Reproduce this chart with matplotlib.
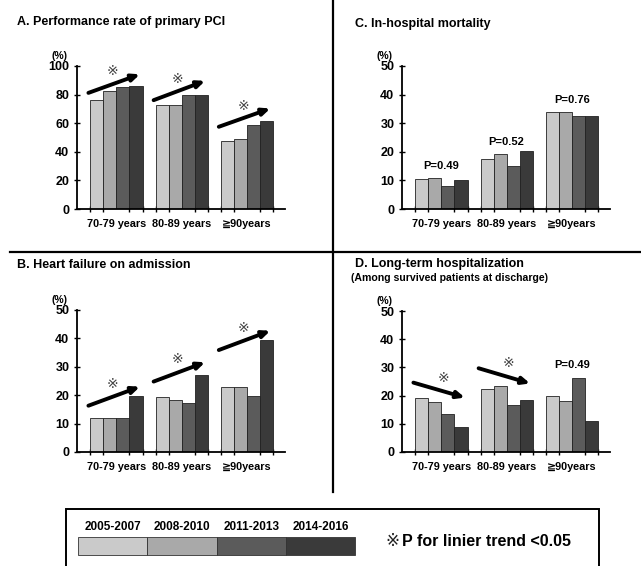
import matplotlib
matplotlib.use("Agg")
import matplotlib.pyplot as plt
import numpy as np

plt.rcParams['font.family'] = ['Liberation Sans', 'DejaVu Sans']

periods = ["2005-2007", "2008-2010", "2011-2013", "2014-2016"]
colors = ["#cacaca", "#a9a9a9", "#5b5b5b", "#3a3a3a"]
age_groups = ["70-79 years", "80-89 years", "\u226790years"]

pci_rate = [[76.5, 82.5, 85.0, 85.7],
            [73.0, 73.0, 79.5, 79.5],
            [47.3, 49.0, 58.5, 61.5]]
heart_failure = [[12.0, 12.0, 12.0, 19.8],
                 [19.3, 18.4, 17.4, 27.2],
                 [23.0, 22.9, 19.6, 39.5]]
mortality = [[10.4, 11.0, 8.2, 10.1],
             [17.4, 19.1, 15.1, 20.2],
             [34.0, 33.8, 32.4, 32.5]]
long_hosp = [[19.1, 17.8, 13.6, 9.0],
             [22.2, 23.3, 16.7, 18.4],
             [19.8, 18.0, 26.2, 11.0]]

# trend arrows: (start y, end y) per group, None if not significant
pci_arrows = [(81.2, 94.2), (76.1, 89.6), (57.5, 70.3)]
pci_stars = [96.5, 90.7, 71.9]
hf_arrows = [(16.3, 23.0), (24.8, 31.6), (35.9, 42.7)]
hf_stars = [23.9, 32.6, 43.5]
lh_arrows = [(24.6, 19.3), (29.7, 24.3), None]
lh_stars = [26.4, 31.4, None]
mort_p = ["P=0.49", "P=0.52", "P=0.76"]
mort_p_y = [15.2, 23.5, 38.0]
lh_p = [None, None, "P=0.49"]
lh_p_y = [None, None, 30.7]

W, H = 641, 566
fig = plt.figure(figsize=(W / 100, H / 100), dpi=100)

def ax_at(left, top, right, bottom):
    return fig.add_axes([left / W, 1 - bottom / H, (right - left) / W, (bottom - top) / H])

bw = 0.2
offsets = (np.arange(4) - 1.5) * bw

def draw_panel(ax, data, ymax, arrows=None, stars=None, plabels=None, ply=None):
    x = np.arange(3)
    data = np.array(data)
    for i in range(4):
        ax.bar(x + offsets[i], data[:, i], width=bw, color=colors[i],
               edgecolor="#222222", linewidth=0.6, zorder=2)
    ax.set_xlim(-0.605, 2.585)
    ax.set_ylim(0, ymax)
    ax.set_yticks(np.linspace(0, ymax, 6))
    ax.set_yticklabels([f"{int(v)}" for v in np.linspace(0, ymax, 6)],
                       fontsize=9, fontweight="bold")
    ax.set_xticks(x)
    ax.set_xticklabels(age_groups, fontsize=7.8, fontweight="bold")
    edges = np.concatenate([xx + np.array([-2, -1, 0, 1, 2]) * bw for xx in x])
    ax.set_xticks(edges, minor=True)
    ax.tick_params(axis="x", which="major", length=0, pad=7)
    ax.tick_params(axis="x", which="minor", length=5, direction="inout", width=1.0)
    ax.tick_params(axis="y", length=5, direction="inout", width=1.0, pad=3)
    for s in ["top", "right"]:
        ax.spines[s].set_visible(False)
    for s in ["left", "bottom"]:
        ax.spines[s].set_linewidth(1.3)
    ax.text(-0.87, ymax * 1.035, "(%)", fontsize=7.5, fontweight="bold",
            ha="center", va="bottom", clip_on=False)
    if arrows is not None:
        for g, a in enumerate(arrows):
            if a is None:
                continue
            x0, x1 = g - 0.43, g + 0.36
            ax.annotate("", xy=(x1, a[1]), xytext=(x0, a[0]),
                        arrowprops=dict(arrowstyle="-|>,head_length=0.45,head_width=0.2",
                                        color="black", lw=2.8, shrinkA=0, shrinkB=0),
                        zorder=3, annotation_clip=False)
            sx = g - 0.06 if a[1] > a[0] else g + 0.03
            ax.text(sx, stars[g], "\u203b", fontsize=10, ha="center", va="center",
                    family=["DejaVu Sans"], color="#444444")
    if plabels is not None:
        for g, (p, yy) in enumerate(zip(plabels, ply)):
            if p is None:
                continue
            ax.text(g, yy, p, fontsize=8, fontweight="bold", ha="center", va="center")

axA = ax_at(77, 66, 285, 209)
draw_panel(axA, pci_rate, 100, arrows=pci_arrows, stars=pci_stars)
axC = ax_at(402, 66, 610, 209)
draw_panel(axC, mortality, 50, plabels=mort_p, ply=mort_p_y)
axB = ax_at(77, 310, 285, 452)
draw_panel(axB, heart_failure, 50, arrows=hf_arrows, stars=hf_stars)
axD = ax_at(402, 311, 610, 452)
draw_panel(axD, long_hosp, 50, arrows=lh_arrows, stars=lh_stars, plabels=lh_p, ply=lh_p_y)

# panel titles
fig.text(17 / W, 1 - 22 / H, "A. Performance rate of primary PCI", fontsize=9,
         fontweight="bold", ha="left", va="center")
fig.text(355 / W, 1 - 24 / H, "C. In-hospital mortality", fontsize=9,
         fontweight="bold", ha="left", va="center")
fig.text(17 / W, 1 - 265 / H, "B. Heart failure on admission", fontsize=9,
         fontweight="bold", ha="left", va="center")
fig.text(355 / W, 1 - 264 / H, "D. Long-term hospitalization", fontsize=9,
         fontweight="bold", ha="left", va="center")
fig.text(351 / W, 1 - 278 / H, "(Among survived patients at discharge)", fontsize=7.6,
         fontweight="bold", ha="left", va="center")

# divider lines
fig.add_artist(plt.Line2D([10 / W, 1.0], [1 - 252 / H, 1 - 252 / H], color="black", lw=1.6))
fig.add_artist(plt.Line2D([333 / W, 333 / W], [1.0, 1 - 492 / H], color="black", lw=1.6))

# legend box
fig.add_artist(plt.Rectangle((66 / W, -0.02), (599 - 66) / W, (1 - 509 / H) + 0.02,
                             fill=False, edgecolor="black", lw=1.4))
seg_w = (355 - 78) / 4
for i, (p, c) in enumerate(zip(periods, colors)):
    x0 = 78 + i * seg_w
    fig.add_artist(plt.Rectangle((x0 / W, 1 - 555 / H), seg_w / W, 18 / H,
                                 facecolor=c, edgecolor="#333333", lw=0.6))
    fig.text((x0 + seg_w / 2) / W, 1 - 527 / H, p, fontsize=8.5, fontweight="bold",
             ha="center", va="center")
fig.text(385 / W, 1 - 541 / H, "\u203b", fontsize=12, ha="left", va="center",
         family=["DejaVu Sans"], color="#222222")
fig.text(402 / W, 1 - 541 / H, "P for linier trend <0.05", fontsize=11.5,
         fontweight="bold", ha="left", va="center")

fig.savefig("out.png", dpi=100)
